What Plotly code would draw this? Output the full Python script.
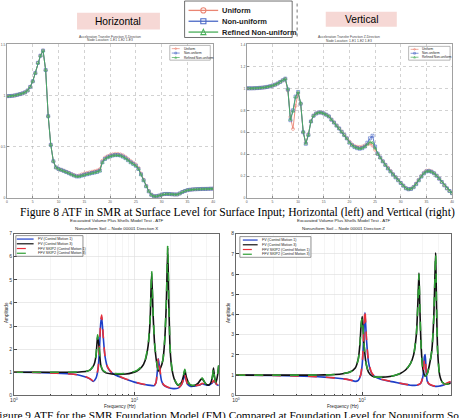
import plotly.graph_objects as go

W, H = 459, 418


def X(p):
    return p / W


def Y(p):
    return 1 - p / H


# ---------------- Figure 8 : ATF at surface level (linear frequency) ----------------
freq_surf = [0, 0.5, 1, 1.5, 2, 2.5, 3, 3.5, 4, 4.5,
             5, 5.5, 6, 6.5, 7, 7.5, 8, 8.5, 9, 9.5,
             10, 10.5, 11, 11.5, 12, 12.5, 13, 13.5, 14, 14.5,
             15, 15.5, 16, 16.5, 17, 17.5, 18, 18.5, 19, 19.5,
             20, 20.5, 21, 21.5, 22, 22.5, 23, 23.5, 24, 24.5,
             25, 25.5, 26, 26.5, 27, 27.5, 28, 28.5, 29, 29.5,
             30, 30.5, 31, 31.5, 32, 32.5, 33, 33.5, 34, 34.5,
             35, 35.5, 36, 36.5, 37, 37.5, 38, 38.5, 39, 39.5, 40]

hor_uniform = [0.995, 0.996, 0.998, 1.002, 1.008, 1.015, 1.022, 1.032, 1.050, 1.085,
               1.140, 1.220, 1.320, 1.390, 1.440, 1.250, 0.800, 0.520, 0.360, 0.300,
               0.285, 0.277, 0.268, 0.258, 0.248, 0.236, 0.226, 0.218, 0.222, 0.232,
               0.240, 0.246, 0.252, 0.258, 0.264, 0.270, 0.282, 0.365, 0.395, 0.410,
               0.420, 0.428, 0.432, 0.432, 0.428, 0.418, 0.402, 0.382, 0.362, 0.345,
               0.328, 0.295, 0.240, 0.180, 0.120, 0.070, 0.035, 0.020, 0.020, 0.025,
               0.035, 0.040, 0.041, 0.040, 0.038, 0.036, 0.036, 0.046, 0.060, 0.070,
               0.078, 0.082, 0.085, 0.087, 0.088, 0.089, 0.090, 0.090, 0.091, 0.092,
               0.093]
hor_nonuniform = [0.995, 0.996, 0.998, 1.002, 1.008, 1.015, 1.022, 1.032, 1.050, 1.085,
                  1.140, 1.220, 1.320, 1.390, 1.440, 1.250, 0.800, 0.520, 0.360, 0.300,
                  0.285, 0.276, 0.266, 0.255, 0.244, 0.232, 0.221, 0.212, 0.212, 0.220,
                  0.227, 0.233, 0.239, 0.245, 0.250, 0.256, 0.268, 0.350, 0.382, 0.398,
                  0.408, 0.416, 0.420, 0.420, 0.416, 0.405, 0.390, 0.370, 0.350, 0.334,
                  0.316, 0.285, 0.232, 0.174, 0.116, 0.066, 0.032, 0.018, 0.019, 0.025,
                  0.035, 0.040, 0.041, 0.040, 0.038, 0.036, 0.036, 0.046, 0.060, 0.070,
                  0.078, 0.082, 0.085, 0.087, 0.088, 0.089, 0.090, 0.090, 0.091, 0.092,
                  0.093]
hor_refined = [0.995, 0.996, 0.998, 1.002, 1.008, 1.015, 1.022, 1.032, 1.050, 1.085,
               1.140, 1.220, 1.320, 1.390, 1.440, 1.250, 0.800, 0.520, 0.360, 0.300,
               0.284, 0.275, 0.265, 0.254, 0.243, 0.231, 0.220, 0.211, 0.211, 0.219,
               0.226, 0.232, 0.238, 0.244, 0.249, 0.255, 0.266, 0.348, 0.380, 0.396,
               0.406, 0.414, 0.418, 0.418, 0.414, 0.403, 0.388, 0.368, 0.348, 0.332,
               0.315, 0.284, 0.231, 0.173, 0.115, 0.066, 0.032, 0.018, 0.019, 0.025,
               0.035, 0.040, 0.041, 0.040, 0.038, 0.036, 0.036, 0.046, 0.060, 0.070,
               0.078, 0.082, 0.085, 0.087, 0.088, 0.089, 0.090, 0.090, 0.091, 0.092,
               0.093]

ver_uniform = [1.000, 1.000, 1.000, 1.001, 1.002, 1.004, 1.006, 1.009, 1.013, 1.018,
               1.025, 1.033, 1.044, 1.058, 1.072, 1.086, 0.980, 0.740, 0.630, 0.840,
               0.955, 0.860, 0.600, 0.505, 0.580, 0.700, 0.752, 0.772, 0.781, 0.780,
               0.772, 0.760, 0.745, 0.716, 0.690, 0.662, 0.636, 0.606, 0.576, 0.546,
               0.515, 0.490, 0.475, 0.468, 0.466, 0.470, 0.480, 0.490, 0.498, 0.478,
               0.440, 0.402, 0.370, 0.337, 0.306, 0.277, 0.248, 0.220, 0.192, 0.166,
               0.140, 0.115, 0.092, 0.082, 0.086, 0.104, 0.134, 0.168, 0.203, 0.232,
               0.250, 0.252, 0.244, 0.228, 0.205, 0.178, 0.148, 0.118, 0.090, 0.066,
               0.046]
ver_nonuniform = [1.000, 1.000, 1.000, 1.001, 1.002, 1.004, 1.006, 1.009, 1.013, 1.018,
                  1.025, 1.033, 1.044, 1.058, 1.073, 1.088, 0.990, 0.710, 0.800, 0.925,
                  0.967, 0.860, 0.600, 0.495, 0.575, 0.698, 0.750, 0.770, 0.780, 0.779,
                  0.771, 0.759, 0.744, 0.714, 0.688, 0.660, 0.634, 0.604, 0.574, 0.544,
                  0.505, 0.482, 0.465, 0.455, 0.450, 0.455, 0.470, 0.505, 0.545, 0.568,
                  0.470, 0.405, 0.370, 0.335, 0.302, 0.270, 0.243, 0.216, 0.189, 0.163,
                  0.138, 0.113, 0.090, 0.081, 0.084, 0.100, 0.128, 0.162, 0.196, 0.225,
                  0.243, 0.246, 0.240, 0.226, 0.204, 0.177, 0.147, 0.117, 0.089, 0.065,
                  0.045]
ver_refined = [1.000, 1.000, 1.000, 1.001, 1.002, 1.004, 1.006, 1.009, 1.013, 1.018,
               1.025, 1.033, 1.044, 1.058, 1.073, 1.088, 0.995, 0.715, 0.790, 0.920,
               0.965, 0.865, 0.605, 0.498, 0.575, 0.698, 0.750, 0.770, 0.780, 0.779,
               0.771, 0.759, 0.744, 0.714, 0.688, 0.660, 0.634, 0.604, 0.574, 0.544,
               0.505, 0.482, 0.465, 0.455, 0.450, 0.455, 0.468, 0.490, 0.512, 0.505,
               0.455, 0.402, 0.368, 0.334, 0.301, 0.270, 0.243, 0.216, 0.189, 0.163,
               0.138, 0.113, 0.090, 0.081, 0.084, 0.100, 0.128, 0.162, 0.196, 0.225,
               0.243, 0.246, 0.240, 0.226, 0.204, 0.177, 0.147, 0.117, 0.089, 0.065,
               0.045]

mesh_names = ["Uniform", "Non-uniform", "Refined Non-uniform"]
mesh_colors = ["#ea8573", "#4a68c6", "#4aae5a"]
mesh_symbols = ["circle-open", "square-open", "triangle-up-open"]
surf_xticks = [0, 5, 10, 15, 20, 25, 30, 35, 40]
hor_yticks = [0, 0.5, 1, 1.5]
ver_yticks = [0, 0.2, 0.4, 0.6, 0.8, 1.0, 1.2, 1.4]

# ---------------- Figure 9 : ATF at foundation level (log frequency) ----------------
fx_m1 = [1, 1.5, 2, 2.5, 3, 3.5, 4, 4.3, 4.55, 4.8, 5.0, 5.15, 5.25, 5.35, 5.5, 5.7,
         6.0, 6.5, 7, 8, 9, 10, 11, 12, 13, 14, 14.6, 15.1, 15.5, 15.8, 16.2, 16.8,
         17.5, 19, 21, 23, 24.5, 25.5, 26, 26.6, 27.5, 29, 31, 33, 35, 36.5, 38, 40,
         42, 44, 45.5, 46.5, 48, 50]
fv_x_m1 = [1.0, 0.99, 0.97, 0.95, 0.92, 0.87, 0.78, 0.70, 0.60, 0.74, 1.15, 2.2, 3.1, 3.4,
           2.6, 1.7, 1.2, 0.97, 0.87, 0.75, 0.65, 0.57, 0.51, 0.47, 0.44, 0.42, 0.42,
           0.54, 1.05, 1.58, 1.15, 0.62, 0.44, 0.34, 0.29, 0.31, 0.44, 0.68, 0.93, 0.74,
           0.49, 0.39, 0.39, 0.42, 0.45, 0.5, 0.47, 0.44, 0.45, 0.52, 0.62, 0.58, 0.47, 0.42]
ffv_x_m1 = [1.0, 0.99, 0.97, 0.95, 0.92, 0.87, 0.79, 0.71, 0.63, 0.76, 1.2, 2.3, 3.2, 3.47,
            2.65, 1.72, 1.22, 0.98, 0.88, 0.76, 0.66, 0.58, 0.52, 0.48, 0.45, 0.43, 0.43,
            0.55, 1.1, 1.63, 1.2, 0.65, 0.45, 0.35, 0.3, 0.32, 0.45, 0.7, 0.96, 0.76,
            0.5, 0.4, 0.4, 0.43, 0.46, 0.52, 0.48, 0.45, 0.46, 0.53, 0.64, 0.6, 0.48, 0.43]
fx_m3 = [1, 2, 3, 3.5, 4, 4.3, 4.6, 4.8, 4.95, 5.1, 5.25, 5.45, 5.8, 6.5, 7.5, 8.5, 9.5,
         10.5, 11.5, 12.3, 13, 13.5, 13.9, 14.3, 14.8, 15.8, 16.5, 17.2, 17.8, 18.4,
         18.9, 19.3, 19.8, 20.5, 21.5, 23, 24.5, 25.5, 26.2, 27, 28.5, 30, 32, 34, 35.5,
         36.5, 37.5, 39, 41, 43, 44.5, 45.3, 46.2, 47.5, 49, 50]
fv_x_m3 = [1.0, 1.0, 1.0, 1.01, 1.04, 1.1, 1.3, 1.7, 2.55, 2.05, 1.33, 1.08, 0.97, 0.92,
           0.9, 0.92, 0.97, 1.05, 1.22, 1.52, 2.15, 3.25, 5.3, 3.45, 2.05, 1.05, 1.2,
           1.5, 2.3, 4.0, 6.4, 3.95, 1.95, 1.12, 0.68, 0.44, 0.54, 0.83, 1.08, 0.78, 0.49,
           0.42, 0.44, 0.54, 0.68, 0.73, 0.63, 0.49, 0.44, 0.54, 0.83, 1.18, 0.78, 0.54,
           0.88, 1.28]
ffv_x_m3 = [1.0, 1.0, 1.0, 1.01, 1.04, 1.1, 1.32, 1.72, 2.62, 2.1, 1.35, 1.1, 1.0, 0.95,
            0.93, 0.95, 1.0, 1.08, 1.25, 1.55, 2.2, 3.3, 5.39, 3.5, 2.1, 1.08, 1.22,
            1.52, 2.35, 4.05, 6.48, 4.0, 2.0, 1.15, 0.7, 0.45, 0.55, 0.85, 1.12, 0.8, 0.5,
            0.43, 0.45, 0.55, 0.7, 0.75, 0.65, 0.5, 0.45, 0.55, 0.85, 1.2, 0.8, 0.55,
            0.9, 1.3]

fz_m1 = [1, 2, 3, 4, 5, 6, 7, 8, 8.8, 9.3, 9.7, 10.0, 10.3, 10.5, 10.8, 11.2, 11.8,
         12.5, 14, 16, 18, 20, 22, 24, 26, 27.5, 29, 30.3, 31.0, 31.5, 32.0, 32.7, 34,
         36, 38, 40, 43, 46, 50]
fv_z_m1 = [1.0, 0.98, 0.96, 0.93, 0.9, 0.86, 0.82, 0.76, 0.69, 0.74, 0.98, 1.55, 3.1,
           4.1, 2.75, 1.65, 1.12, 0.93, 0.79, 0.71, 0.65, 0.59, 0.54, 0.5, 0.49, 0.51,
           0.6, 0.98, 1.9, 2.02, 1.25, 0.7, 0.54, 0.47, 0.44, 0.45, 0.49, 0.56, 0.66]
ffv_z_m1 = [1.0, 0.98, 0.96, 0.93, 0.9, 0.86, 0.82, 0.76, 0.7, 0.75, 1.0, 1.6, 3.2, 4.24,
            2.8, 1.7, 1.15, 0.95, 0.8, 0.72, 0.66, 0.6, 0.55, 0.51, 0.5, 0.52, 0.6, 0.95,
            1.75, 1.85, 1.2, 0.7, 0.55, 0.48, 0.45, 0.46, 0.5, 0.58, 0.68]
fz_m3 = [1, 2, 3, 4, 5, 6, 7, 8, 8.8, 9.3, 9.6, 9.8, 10.0, 10.3, 10.7, 11.2, 12, 13,
         14.5, 16, 18, 20, 22, 24, 25.5, 26.8, 27.6, 28.1, 28.6, 29.3, 30.2, 31.5, 32.8,
         34, 35.5, 36.8, 37.6, 38.1, 38.7, 39.5, 41, 43, 46, 50]
fv_z_m3 = [1.0, 1.0, 1.0, 1.0, 1.01, 1.03, 1.07, 1.15, 1.35, 1.8, 2.6, 3.5, 3.9, 2.6,
           1.6, 1.15, 0.95, 0.9, 0.9, 0.92, 0.98, 1.08, 1.25, 1.55, 2.0, 3.0, 4.7, 6.05,
           4.2, 2.3, 1.3, 0.95, 1.1, 1.5, 2.2, 3.8, 5.9, 7.05, 4.5, 2.2, 1.0, 0.65, 0.55,
           0.6]
ffv_z_m3 = [1.0, 1.0, 1.0, 1.0, 1.01, 1.03, 1.07, 1.15, 1.35, 1.78, 2.55, 3.45, 3.85,
            2.6, 1.6, 1.15, 0.95, 0.9, 0.9, 0.92, 0.98, 1.08, 1.25, 1.55, 2.0, 3.0, 4.6,
            6.0, 4.2, 2.3, 1.3, 0.95, 1.1, 1.5, 2.2, 3.8, 5.8, 7.0, 4.5, 2.2, 1.0, 0.65,
            0.55, 0.6]

fm_names = ["FV (Control Motion 1)", "FV (Control Motion 3)",
            "FFV SKIP2 (Control Motion 1)", "FFV SKIP2 (Control Motion 3)"]
fm_colors = ["#1f3fc8", "#111111", "#e8303a", "#2e9e34"]
fm_dash = ["solid", "solid", "dash", "dash"]
found_yticks_x = [0, 1, 2, 3, 4, 5, 6, 7]
found_yticks_z = [0, 1, 2, 3, 4, 5, 6, 7, 8]

# ----------------------------------------------------------------------------------
fig = go.Figure()

for name, col, sym, yh, yv in zip(mesh_names, mesh_colors, mesh_symbols,
                                  [hor_uniform, hor_nonuniform, hor_refined],
                                  [ver_uniform, ver_nonuniform, ver_refined]):
    fig.add_trace(go.Scatter(x=freq_surf, y=yh, name=name, mode="lines+markers",
                             line=dict(color=col, width=0.9),
                             marker=dict(symbol=sym, size=3, color=col, line=dict(width=0.6)),
                             xaxis="x", yaxis="y", showlegend=False))
    fig.add_trace(go.Scatter(x=freq_surf, y=yv, name=name, mode="lines+markers",
                             line=dict(color=col, width=0.9),
                             marker=dict(symbol=sym, size=3, color=col, line=dict(width=0.6)),
                             xaxis="x2", yaxis="y2", showlegend=False))

x_sets = [(fx_m1, fv_x_m1), (fx_m3, fv_x_m3), (fx_m1, ffv_x_m1), (fx_m3, ffv_x_m3)]
z_sets = [(fz_m1, fv_z_m1), (fz_m3, fv_z_m3), (fz_m1, ffv_z_m1), (fz_m3, ffv_z_m3)]
for name, col, dash, (fx, vx), (fz, vz) in zip(fm_names, fm_colors, fm_dash, x_sets, z_sets):
    fig.add_trace(go.Scatter(x=fx, y=vx, name=name, mode="lines",
                             line=dict(color=col, width=1.6, dash=dash, shape="spline", smoothing=0.6),
                             xaxis="x3", yaxis="y3", showlegend=False))
    fig.add_trace(go.Scatter(x=fz, y=vz, name=name, mode="lines",
                             line=dict(color=col, width=1.6, dash=dash, shape="spline", smoothing=0.6),
                             xaxis="x4", yaxis="y4", showlegend=False))

tiny = dict(family="Liberation Sans", size=3.4, color="#555555")
small = dict(family="Liberation Sans", size=5, color="#333333")

top_x = dict(range=[0, 40], tickmode="array", tickvals=surf_xticks, showgrid=True,
             gridcolor="#b4b4b4", griddash="dot", gridwidth=0.6, showline=True,
             linecolor="#8a8a8a", linewidth=0.8, mirror=True, ticks="inside", ticklen=2,
             tickcolor="#8a8a8a", tickfont=tiny, zeroline=False, fixedrange=True)
top_y = dict(showgrid=True, gridcolor="#b4b4b4", griddash="dot", gridwidth=0.6,
             showline=True, linecolor="#8a8a8a", linewidth=0.8, mirror=True, ticks="inside",
             ticklen=2, tickcolor="#8a8a8a", tickfont=tiny, zeroline=False, tickmode="array")
bot_x = dict(type="log", range=[0, 1.703], tickmode="array", tickvals=[1, 10],
             ticktext=["10<sup>0</sup>", "10<sup>1</sup>"], showgrid=True,
             gridcolor="#dcdcdc", gridwidth=0.6, showline=True, linecolor="#444444",
             linewidth=0.8, mirror=True, ticks="inside", ticklen=3, tickcolor="#444444",
             tickfont=small, zeroline=False,
             minor=dict(tickvals=[2, 3, 4, 5, 6, 7, 8, 9, 20, 30, 40, 50], showgrid=True,
                        gridcolor="#ececec", gridwidth=0.5, ticks="inside", ticklen=1.5,
                        tickcolor="#444444"))
bot_y = dict(showgrid=True, gridcolor="#dcdcdc", gridwidth=0.6, showline=True,
             linecolor="#444444", linewidth=0.8, mirror=True, ticks="inside", ticklen=3,
             tickcolor="#444444", tickfont=small, zeroline=False, tickmode="array")

fig.update_layout(
    width=W, height=H, margin=dict(l=0, r=0, t=0, b=0), autosize=False,
    paper_bgcolor="white", plot_bgcolor="white", showlegend=False,
    font=dict(family="Liberation Sans"),
    xaxis=dict(top_x, domain=[X(3), X(212)], anchor="y"),
    yaxis=dict(top_y, domain=[Y(198), Y(42)], range=[0, 1.5], tickvals=hor_yticks, anchor="x"),
    xaxis2=dict(top_x, domain=[X(246), X(454)], anchor="y2"),
    yaxis2=dict(top_y, domain=[Y(198), Y(42)], range=[0, 1.4], tickvals=ver_yticks, anchor="x2"),
    xaxis3=dict(bot_x, domain=[X(10), X(218)], anchor="y3"),
    yaxis3=dict(bot_y, domain=[Y(398), Y(234)], range=[0, 7], tickvals=found_yticks_x, anchor="x3"),
    xaxis4=dict(bot_x, domain=[X(235), X(453)], anchor="y4"),
    yaxis4=dict(bot_y, domain=[Y(398), Y(234)], range=[0, 8], tickvals=found_yticks_z, anchor="x4"),
)

shapes = []
annots = []


def text(x, y, s, size, color="#000000", family="Liberation Sans", xanchor="center",
         angle=0, bold=False):
    if bold:
        s = "<b>" + s + "</b>"
    annots.append(dict(x=X(x), y=Y(y), xref="paper", yref="paper", text=s, showarrow=False,
                       xanchor=xanchor, yanchor="middle", textangle=angle,
                       font=dict(size=size, color=color, family=family)))


def marker(kind, cx, cy, r, color, lw):
    if kind.startswith("circle"):
        shapes.append(dict(type="circle", xref="paper", yref="paper", x0=X(cx - r), x1=X(cx + r),
                           y0=Y(cy + r), y1=Y(cy - r), line=dict(color=color, width=lw)))
    elif kind.startswith("square"):
        shapes.append(dict(type="rect", xref="paper", yref="paper", x0=X(cx - r), x1=X(cx + r),
                           y0=Y(cy + r), y1=Y(cy - r), line=dict(color=color, width=lw)))
    else:
        path = "M {},{} L {},{} L {},{} Z".format(X(cx - r), Y(cy + r), X(cx + r), Y(cy + r),
                                                  X(cx), Y(cy - r * 1.1))
        shapes.append(dict(type="path", xref="paper", yref="paper", path=path,
                           line=dict(color=color, width=lw)))


def legend(box, rows, sw, tx, names, colors, size, lw, dashes=None, symbols=None, mr=0,
           border="#666666", bold=False):
    x0, y0, x1, y1 = box
    shapes.append(dict(type="rect", xref="paper", yref="paper", x0=X(x0), x1=X(x1),
                       y0=Y(y1), y1=Y(y0), line=dict(color=border, width=0.7),
                       fillcolor="white"))
    for i, (nm, col, ry) in enumerate(zip(names, colors, rows)):
        d = dashes[i] if dashes else "solid"
        shapes.append(dict(type="line", xref="paper", yref="paper", x0=X(sw[0]), x1=X(sw[1]),
                           y0=Y(ry), y1=Y(ry), line=dict(color=col, width=lw, dash=d)))
        if symbols:
            marker(symbols[i], (sw[0] + sw[1]) / 2, ry, mr, col, max(lw * 0.8, 0.5))
        text(tx, ry, nm, size, xanchor="left", bold=bold, color="#222222")


# title boxes
shapes.append(dict(type="rect", xref="paper", yref="paper", x0=X(74), x1=X(158), y0=Y(27),
                   y1=Y(10), fillcolor="#f6d8d5", line=dict(width=0), layer="below"))
shapes.append(dict(type="rect", xref="paper", yref="paper", x0=X(326), x1=X(398), y0=Y(24),
                   y1=Y(9), fillcolor="#f6d8d5", line=dict(width=0), layer="below"))
text(116, 18.5, "Horizontal", 10.2)
text(362, 16.5, "Vertical", 10.2)

# central legend of Figure 8
legend((183, -2, 292, 35), [7.5, 18.5, 29.5], (187, 217), 219, mesh_names, mesh_colors, 7.5,
       1.3, symbols=mesh_symbols, mr=2.6, border="#333333", bold=True)
shapes.append(dict(type="line", xref="paper", yref="paper", x0=X(297), x1=X(297), y0=Y(34),
                   y1=Y(0), line=dict(color="#777777", width=1, dash="dot")))

# small legends inside the Figure 8 panels
legend((168, 43, 209, 58), [46.3, 50.8, 55.3], (170, 178), 180, mesh_names, mesh_colors, 3.2,
       0.7, symbols=mesh_symbols, mr=0.9, border="#999999")
legend((410, 44, 452, 58), [47, 51, 55], (412, 420), 422, mesh_names, mesh_colors, 3.2,
       0.7, symbols=mesh_symbols, mr=0.9, border="#999999")

# panel titles Figure 8
text(107, 34.3, "Acceleration Transfer Function X-Direction", 3.3, color="#444444")
text(107, 37.7, "Node Location: 1-E1 1-E2 1-E3", 3.3, color="#444444")
text(350, 34.7, "Acceleration Transfer Function Z-Direction", 3.3, color="#444444")
text(350, 38.1, "Node Location: 1-E1 1-E2 1-E3", 3.3, color="#444444")

# caption Figure 8
text(237, 212.5, "Figure 8 ATF in SMR at Surface Level for Surface Input; Horizontal (left) "
     "and Vertical (right)", 11.6, family="Liberation Serif")

# titles Figure 9 panels
text(114, 220.5, "Excavated Volume Plus Shells Model Test - ATF", 4.4, color="#222222")
text(114, 229, "Nonuniform Soil -- Node 00001 Direction X", 4.4, color="#222222")
text(344, 220.5, "Excavated Volume Plus Shells Model Test - ATF", 4.4, color="#222222")
text(344, 229, "Nonuniform Soil -- Node 00001 Direction Z", 4.4, color="#222222")

# legends Figure 9
legend((12, 236, 80, 257), [239.5, 244.3, 249.1, 253.9], (13, 30), 32, fm_names, fm_colors,
       3.6, 1.2, dashes=fm_dash, border="#666666")
legend((239, 237, 311, 258), [240.5, 245.3, 250.1, 254.9], (242, 257), 259, fm_names,
       fm_colors, 3.6, 1.2, dashes=fm_dash, border="#666666")

# axis titles Figure 9
text(2.5, 314, "Amplitude", 4.6, angle=-90, color="#222222")
text(227.5, 314, "Amplitude", 4.6, angle=-90, color="#222222")
text(118, 409.5, "Frequency (Hz)", 4.6, color="#222222")
text(343, 409.5, "Frequency (Hz)", 4.6, color="#222222")

# caption Figure 9 (cut by page edge, as in the scanned page)
text(228, 418.5, "Figure 9 ATF for the SMR Foundation Model (FM) Compared at Foundation Level "
     "for Nonuniform Soil", 11.3, family="Liberation Serif")

fig.update_layout(shapes=shapes, annotations=annots)
fig.write_html("out.html", config=dict(displayModeBar=False, staticPlot=True))
